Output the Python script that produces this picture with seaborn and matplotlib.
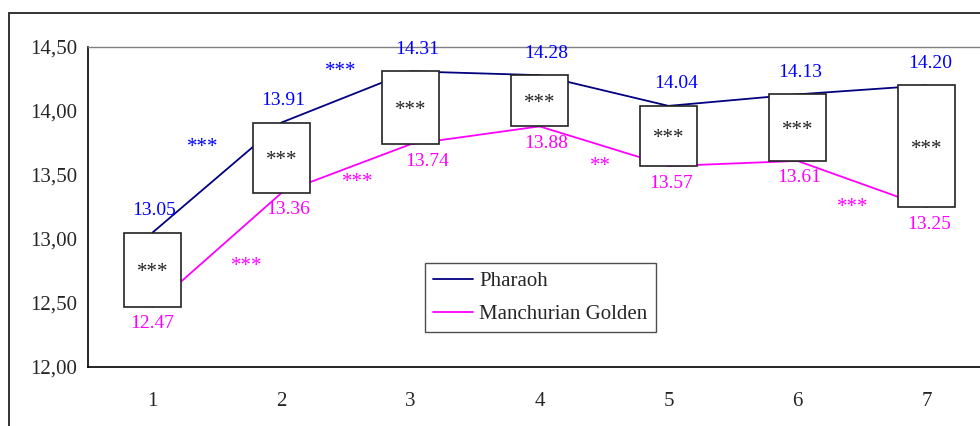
import pandas as pd
import numpy as np
import matplotlib
matplotlib.use("Agg")
import matplotlib.pyplot as plt
import seaborn as sns
from matplotlib.patches import Rectangle
from matplotlib.lines import Line2D

sns.set_style("white")
plt.rcParams['font.family'] = ['Liberation Serif', 'DejaVu Serif']

# --- data ---
periods = [1, 2, 3, 4, 5, 6, 7]
pharaoh = [13.05, 13.91, 14.31, 14.28, 14.04, 14.13, 14.20]
manchurian = [12.47, 13.36, 13.74, 13.88, 13.57, 13.61, 13.25]
box_stars = ["***"] * 7

# significance between neighbouring periods: (x, y, text)
pharaoh_trend_x = [1.39, 2.46]
pharaoh_trend_y = [13.75, 14.34]
pharaoh_trend_txt = ["***", "***"]
manch_trend_x = [1.73, 2.59, 4.47, 6.43]
manch_trend_y = [12.82, 13.47, 13.60, 13.28]
manch_trend_txt = ["***", "***", "**", "***"]

yticks = [12.0, 12.5, 13.0, 13.5, 14.0, 14.5]

df = pd.DataFrame({
    "period": periods * 2,
    "value": pharaoh + manchurian,
    "variety": ["Pharaoh"] * 7 + ["Manchurian Golden"] * 7,
})

navy = "#000080"
magenta = "#FF00FF"
blue = "#0000FF"

fig = plt.figure(figsize=(9.8, 4.26), dpi=100)
ax = fig.add_axes([88 / 980, 59 / 426, 903 / 980, 320 / 426])

sns.lineplot(data=df, x="period", y="value", hue="variety",
             palette={"Pharaoh": navy, "Manchurian Golden": magenta},
             linewidth=1.3, legend=False, ax=ax, zorder=1)

# boxes spanning the two varieties
diff = np.array(pharaoh) - np.array(manchurian)
ax.bar(periods, diff, bottom=manchurian, width=0.44, color="white",
       edgecolor="#222222", linewidth=1.2, zorder=2)
for x, lo, hi, s in zip(periods, manchurian, pharaoh, box_stars):
    ax.annotate(s, (x, (lo + hi) / 2), xytext=(0, -3), textcoords="offset pixels",
                ha="center", va="center", fontsize=15, color="#222222", zorder=3)

# value labels
ph_dx = [2, 2, 7, 7, 8, 3, 4]
mg_dx = [0, 7, 17, 7, 3, 2, 3]
for x, v, dx in zip(periods, pharaoh, ph_dx):
    ax.annotate(f"{v:.2f}", (x, v), xytext=(dx, 22), textcoords="offset pixels",
                ha="center", va="center", fontsize=14, color=blue, zorder=4)
for x, v, dx in zip(periods, manchurian, mg_dx):
    ax.annotate(f"{v:.2f}", (x, v), xytext=(dx, -17), textcoords="offset pixels",
                ha="center", va="center", fontsize=14, color=magenta, zorder=4)

for x, y, t in zip(pharaoh_trend_x, pharaoh_trend_y, pharaoh_trend_txt):
    ax.annotate(t, (x, y), xytext=(0, -4), textcoords="offset pixels",
                ha="center", va="center", fontsize=15, color=blue)
for x, y, t in zip(manch_trend_x, manch_trend_y, manch_trend_txt):
    ax.annotate(t, (x, y), xytext=(0, -4), textcoords="offset pixels",
                ha="center", va="center", fontsize=15, color=magenta)

# axes
ax.set_xlim(0.5, 7.5)
ax.set_ylim(12.0, 14.5)
ax.set_yticks(yticks)
ax.set_yticklabels([f"{t:.2f}".replace(".", ",") for t in yticks], fontsize=15)
ax.set_xticks(np.arange(0.5, 8.0, 1.0))
ax.set_xticklabels([])
ax.set_xticks(periods, minor=True)
ax.set_xticklabels([str(p) for p in periods], minor=True, fontsize=15)
ax.tick_params(axis="x", which="major", direction="out", length=6, width=1, color="black")
ax.tick_params(axis="x", which="minor", length=0, pad=18)
ax.tick_params(axis="y", direction="out", length=5, width=1, color="black", pad=3)
ax.set_xlabel("")
ax.set_ylabel("")
ax.grid(False)
for side in ["left", "bottom"]:
    ax.spines[side].set_color("black")
    ax.spines[side].set_linewidth(1.2)
ax.spines["top"].set_color("#808080")
ax.spines["top"].set_linewidth(1.0)
ax.spines["right"].set_visible(False)

handles = [Line2D([], [], color=navy, lw=1.3), Line2D([], [], color=magenta, lw=1.3)]
leg = fig.legend(handles, ["Pharaoh", "Manchurian Golden"], loc="upper left",
                 bbox_to_anchor=(425 / 980, 1 - 263 / 426), fontsize=15,
                 frameon=True, fancybox=False, handlelength=1.9, handletextpad=0.3,
                 borderpad=0.4, labelspacing=0.65, borderaxespad=0)
leg.get_frame().set_edgecolor("#222222")
leg.get_frame().set_linewidth(1.0)

# outer chart frame
fig.patches.append(Rectangle((9 / 980, -0.1), 1.2, 1.1 - 13 / 426,
                             transform=fig.transFigure, fill=False,
                             edgecolor="#333333", linewidth=1.4))

fig.savefig("out.png", dpi=100)
